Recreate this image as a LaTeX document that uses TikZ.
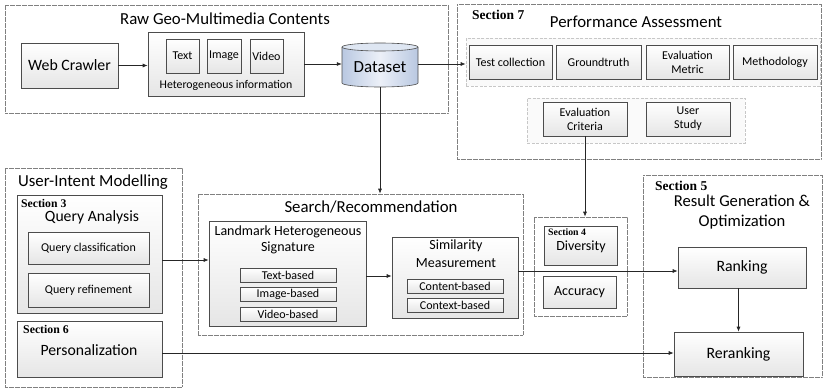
\documentclass[tikz,border=0pt]{standalone}
\usepackage{fontspec}
\setmainfont{Carlito}
\newfontfamily\secfont{Liberation Serif}
\usetikzlibrary{arrows.meta,shadows}
\newcommand{\fsz}[2]{\fontsize{#1}{#2}\selectfont}
\definecolor{dsb}{RGB}{185,200,225}
\definecolor{dsl}{RGB}{236,240,248}
\definecolor{dst}{RGB}{222,230,242}
\begin{document}
\begin{tikzpicture}[x=1pt,y=-1pt,
 outer/.style={draw=black!50, dash pattern=on 0.6pt off 0.6pt, line width=0.6pt, inner sep=0},
 grp/.style={draw=black!22, dash pattern=on 3pt off 1.5pt, fill=black!2, line width=0.7pt, inner sep=0},
 box/.style={draw=black!70, line width=0.6pt, top color=white, bottom color=black!10, inner sep=0, align=center,
   drop shadow={shadow xshift=1.3pt, shadow yshift=-1.3pt, fill=black, opacity=0.2}},
 sbox/.style={box, font=\fsz{12}{14}},
 arr/.style={draw=black!85, line width=0.7pt, -{Latex[length=5pt,width=4pt]}},
 ttl/.style={font=\fsz{16.8}{20}, inner sep=0, align=center},
 mid/.style={font=\fsz{14}{17}, inner sep=0, align=center},
 sec/.style={font=\secfont\bfseries\fsz{13.5}{16}, inner sep=0, anchor=west},
]
\useasboundingbox (0,0) rectangle (823,388);

% ---------- outer dotted frames ----------
\node[outer, minimum width=443, minimum height=108] (rawbox) at (226.5,59) {};
\node[outer, minimum width=364, minimum height=155] (sec7box) at (639,81.5) {};
\node[outer, minimum width=177, minimum height=219] (uimbox) at (93.5,277.5) {};
\node[outer, minimum width=325, minimum height=141] (searchbox) at (360.5,264.5) {};
\node[outer, minimum width=93, minimum height=99] (divgroup) at (580.5,266.5) {};
\node[outer, minimum width=179, minimum height=202] (sec5box) at (732.5,276) {};

% ---------- Raw Geo-Multimedia Contents ----------
\node[ttl] (rawttl) at (225,19) {Raw Geo-Multimedia Contents};
\node[box, minimum width=97, minimum height=45, font=\fsz{15.8}{18}] (wc) at (69.5,65.5) {Web Crawler};
\node[box, minimum width=156, minimum height=64] (het) at (226,64) {};
\node[sbox, minimum width=33, minimum height=34] (txt) at (182.5,56) {Text};
\node[sbox, minimum width=34, minimum height=34] (img) at (224,56) {Image};
\node[sbox, minimum width=33, minimum height=34] (vid) at (266.5,56) {Video};
\node[font=\fsz{11.8}{14}, inner sep=0] (hetlbl) at (226,85) {Heterogeneous information};

% Dataset cylinder
\node[minimum width=76, minimum height=44, inner sep=0] (ds) at (380,65) {};
\path[left color=dsb, right color=dsb, middle color=dsl]
  (342,47) -- (342,83) arc (180:0:38 and 4) -- (418,47) arc (0:-180:38 and 4) -- cycle;
\draw[black!70, line width=0.6pt]
  (342,47) -- (342,83) arc (180:0:38 and 4) -- (418,47);
\draw[black!70, line width=0.6pt, fill=dst] (380,47) ellipse (38 and 4);
\node[font=\fsz{17}{20}, inner sep=0] (dslbl) at (380,67) {Dataset};

% ---------- Performance Assessment ----------
\node[sec] (s7) at (472,15) {Section 7};
\node[ttl] (pattl) at (636,22) {Performance Assessment};
\node[grp, minimum width=354, minimum height=48] (pag1) at (643,62) {};
\node[grp, minimum width=218, minimum height=45] (pag2) at (636,120.5) {};
\node[sbox, minimum width=83, minimum height=34] (testcol) at (510.5,62) {Test collection};
\node[sbox, minimum width=85, minimum height=34] (ground) at (598.5,62) {Groundtruth};
\node[sbox, minimum width=83, minimum height=34] (evalm) at (687.5,62) {Evaluation\\Metric};
\node[sbox, minimum width=84, minimum height=34] (meth) at (775,62) {Methodology};
\node[sbox, minimum width=84, minimum height=34] (evalc) at (585,119) {Evaluation\\Criteria};
\node[sbox, minimum width=84, minimum height=34] (ustudy) at (688,119) {User\\Study};

% ---------- User-Intent Modelling ----------
\node[ttl] (uimttl) at (93,182) {User-Intent Modelling};
\node[box, minimum width=145, minimum height=118] (qa) at (89.5,254) {};
\node[sec, font=\secfont\bfseries\fsz{11.7}{14}] (s3) at (21,203) {Section 3};
\node[ttl, font=\fsz{15.7}{18}] (qattl) at (92,217) {Query Analysis};
\node[sbox, minimum width=121, minimum height=32] (qclass) at (88.5,248) {Query classification};
\node[sbox, minimum width=121, minimum height=34] (qref) at (88.5,290) {Query refinement};
\node[box, minimum width=145, minimum height=56] (pers) at (89.5,349) {};
\node[sec, font=\secfont\bfseries\fsz{11.8}{14}] (s6) at (23,329) {Section 6};
\node[ttl, font=\fsz{15.7}{18}] (persttl) at (89,350) {Personalization};

% ---------- Search / Recommendation ----------
\node[ttl] (srttl) at (371,207) {Search/Recommendation};
\node[box, minimum width=157, minimum height=105] (landmark) at (287.5,273.5) {};
\node[mid] (lmttl) at (288,240) {Landmark Heterogeneous\\[-1pt]Signature};
\node[sbox, minimum width=96, minimum height=14] (tb) at (288,275) {Text-based};
\node[sbox, minimum width=96, minimum height=14] (ib) at (288,294) {Image-based};
\node[sbox, minimum width=96, minimum height=14] (vb) at (288,314) {Video-based};
\node[box, minimum width=126, minimum height=81] (sim) at (455,277.5) {};
\node[mid] (simttl) at (456,254) {Similarity\\[1pt]Measurement};
\node[sbox, minimum width=96, minimum height=14] (cb) at (455,286) {Content-based};
\node[sbox, minimum width=96, minimum height=14] (xb) at (455,305) {Context-based};

% ---------- Diversity / Accuracy ----------
\node[box, minimum width=73, minimum height=39] (div) at (580.5,245.5) {};
\node[sec, font=\secfont\bfseries\fsz{9.8}{12}] (s4) at (548,232) {Section 4};
\node[mid] (divttl) at (581,247) {Diversity};
\node[box, minimum width=73, minimum height=32, font=\fsz{14}{17}] (acc) at (579.5,292) {Accuracy};

% ---------- Result Generation & Optimization ----------
\node[sec] (s5) at (655,186) {Section 5};
\node[ttl, font=\fsz{16.6}{20}] (rgttl) at (742,212) {Result Generation \&\\Optimization};
\node[box, minimum width=128, minimum height=41, font=\fsz{15.8}{18}] (rank) at (742,267.5) {Ranking};
\node[box, minimum width=129, minimum height=44, font=\fsz{15.8}{18}] (rerank) at (738.5,354) {Reranking};

% ---------- connectors ----------
\draw[arr] (wc.east) -- (wc.east -| het.west);
\draw[arr] (het.east) -- (het.east -| ds.west);
\draw[arr] ([yshift=1pt]ds.east) -- ([yshift=1pt]ds.east -| pag1.west);
\draw[arr] (ds.south) -- (ds.south |- searchbox.north);
\draw[arr] (evalc.south) -- (evalc.south |- divgroup.north);
\draw[arr] ([yshift=-6pt]qa.east) -- ([yshift=-6pt]qa.east -| landmark.west);
\draw[arr] ([yshift=-2.5pt]landmark.east) -- ([yshift=-2.5pt]landmark.east -| sim.west);
\draw[arr] ([yshift=6.5pt]sim.east) -- ([yshift=6.5pt]sim.east -| rank.west);
\draw[arr] ([yshift=-4pt]pers.east) -- ([yshift=-4pt]pers.east -| rerank.west);
\draw[arr] (rerank.north |- rank.south) -- (rerank.north);
\end{tikzpicture}
\end{document}
